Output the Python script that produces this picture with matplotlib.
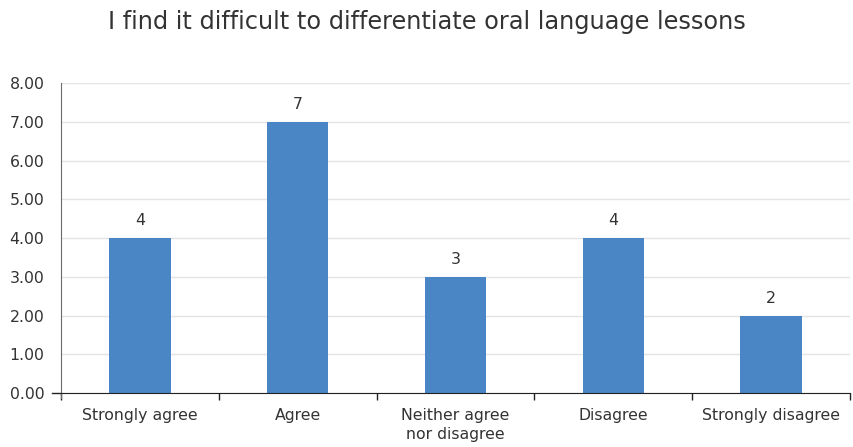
import matplotlib

matplotlib.use("Agg")
import matplotlib.pyplot as plt
import numpy as np

plt.rcParams["font.family"] = ["DejaVu Sans"]

categories = [
    "Strongly agree",
    "Agree",
    "Neither agree\nnor disagree",
    "Disagree",
    "Strongly disagree",
]
counts = [4, 7, 3, 4, 2]
y_ticks = [0, 1, 2, 3, 4, 5, 6, 7, 8]

TEXT = "#333333"
AXIS = "#6b6b6b"
FS = 11.3

fig = plt.figure(figsize=(8.54, 4.47), dpi=100)
ax = fig.add_axes([0.0714, 0.1208, 0.9240, 0.6935])

x = np.arange(len(categories))
ax.bar(x, counts, width=0.39, color="#4a86c5", zorder=2)

for xi, c in zip(x, counts):
    ax.annotate(
        f"{c}",
        (xi, c),
        xytext=(0, 7),
        textcoords="offset points",
        ha="center",
        va="bottom",
        fontsize=FS,
        color=TEXT,
    )

ax.set_xlim(-0.5, len(categories) - 0.5)
ax.set_ylim(0, 8)
ax.set_yticks(y_ticks)
ax.set_yticklabels([f"{v:.2f}" for v in y_ticks], fontsize=FS, color=TEXT)
ax.tick_params(axis="y", length=0, pad=12)
ax.grid(axis="y", color="#e4e4e4", linewidth=1, zorder=0)

# category labels centred, ticks on the boundaries
ax.set_xticks(x)
ax.set_xticklabels(categories, fontsize=FS, color=TEXT, linespacing=1.35)
ax.tick_params(axis="x", which="major", length=0, pad=11)
ax.set_xticks(np.arange(len(categories) + 1) - 0.5, minor=True)
ax.tick_params(axis="x", which="minor", length=5, color="#222222", width=1)

for side in ["top", "right"]:
    ax.spines[side].set_visible(False)
ax.spines["left"].set_color(AXIS)
ax.spines["bottom"].set_color("#222222")
ax.spines["left"].set_bounds(-0.13, 8)
ax.plot([-0.555, -0.5], [0, 0], color="#222222", lw=1, clip_on=False)

fig.suptitle(
    "I find it difficult to differentiate oral language lessons",
    x=0.5,
    y=0.978,
    fontsize=17.3,
    color=TEXT,
)

fig.savefig("out.png", dpi=100)
